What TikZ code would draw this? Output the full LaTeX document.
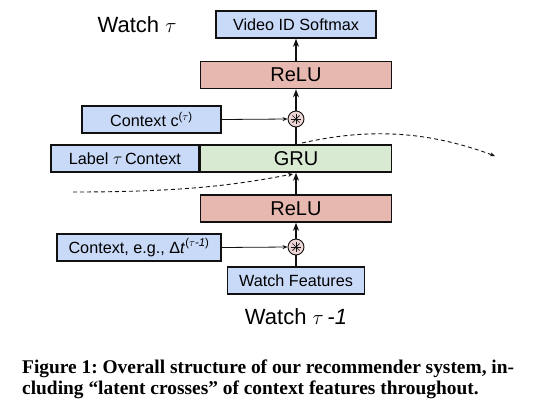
\documentclass[tikz,border=0pt]{standalone}
\usepackage{fontspec}
\setmainfont{Liberation Sans}
\newfontfamily\capfont{Liberation Serif}
\usetikzlibrary{arrows.meta}
\frenchspacing
\definecolor{bluefill}{HTML}{C9DAF8}
\definecolor{redfill}{HTML}{E6B8AF}
\definecolor{pinkfill}{HTML}{EED6D6}
\definecolor{greenfill}{HTML}{D9EAD3}
\definecolor{edge}{HTML}{111111}
\tikzset{
  box/.style={draw=edge, line width=1.6pt, inner sep=0pt, minimum height=27pt, font=\fontsize{16.2}{19}\selectfont},
  bluebox/.style={box, fill=bluefill},
  redbox/.style={box, fill=redfill, font=\fontsize{20}{23}\selectfont},
  greenbox/.style={box, fill=greenfill, font=\fontsize{20}{23}\selectfont},
  crossnode/.style={circle, draw=edge, line width=0.9pt, fill=pinkfill, minimum size=16pt, inner sep=0pt},
  uparrow/.style={draw=edge, line width=1.4pt, -{Stealth[length=8pt,width=6pt]}},
  upline/.style={draw=edge, line width=1.4pt},
  sidearrow/.style={draw=edge, line width=0.8pt, -{Stealth[length=5pt,width=4pt]}},
  flow/.style={draw=edge, line width=0.9pt, dash pattern=on 4pt off 3pt, -{Stealth[length=5pt,width=4pt]}},
  titletext/.style={font=\fontsize{22}{25}\selectfont, inner sep=0pt},
  captext/.style={anchor=base west, inner sep=0pt, font=\capfont\bfseries\fontsize{19.4}{23}\selectfont},
}
\newcommand{\crossmark}[1]{%
  \foreach \ang in {0,45,...,315}{\draw[edge, line width=0.7pt] (#1.center) -- ++(\ang:5pt);}%
}
\begin{document}
\begin{tikzpicture}[x=1pt,y=-1pt]
\useasboundingbox[fill=white] (0,0) rectangle (554,408);

\node[bluebox, minimum width=160pt] (soft) at (296,24.5) {Video ID Softmax};
\node[titletext] (wtop) at (137,25) {Watch $\tau$};
\node[redbox, minimum width=191pt] (relu2) at (296,75) {ReLU};
\node[bluebox, minimum width=139pt] (ctx2) at (151.5,119.5) {Context c\textsuperscript{($\tau$)}};
\node[crossnode] (cross2) at (296,119) {};
\crossmark{cross2}
\node[greenbox, minimum width=191pt] (gru) at (296,158.5) {GRU};
\node[bluebox, minimum width=148pt, anchor=east] (label) at (gru.west) {Label $\tau$\,Context};
\node[redbox, minimum width=191pt] (relu1) at (296,208.5) {ReLU};
\node[bluebox, minimum width=164pt] (ctx1) at (139,247.5) {Context, e.g., Δ\textit{t}\textsuperscript{($\tau$\textit{-1})}};
\node[crossnode] (cross1) at (296,247) {};
\crossmark{cross1}
\node[bluebox, minimum width=137pt] (wf) at (296,280.5) {Watch Features};
\node[titletext] (wbot) at (296,317) {Watch $\tau$\,\textit{-1}};

\draw[upline] (wf.north) -- (cross1.south);
\draw[uparrow] (cross1.north) -- (relu1.south);
\draw[uparrow] (relu1.north) -- (gru.south);
\draw[upline] (gru.north) -- (cross2.south);
\draw[uparrow] (cross2.north) -- (relu2.south);
\draw[uparrow] (relu2.north) -- (soft.south);
\draw[sidearrow] (ctx2.east) -- (cross2.west);
\draw[sidearrow] (ctx1.east) -- (cross1.west);

\coordinate (fa) at (302,143);
\coordinate (fb) at (495,156);
\coordinate (fc) at (73,192);
\coordinate (fd) at (293,174);
\draw[flow] (fa) .. controls (360,130) and (420,128) .. (fb);
\draw[flow] (fc) .. controls (190,192) and (240,184) .. (fd);

\node[captext] (cap1) at (22,373) {Figure 1: Overall structure of our recommender system, in-};
\node[captext] (cap2) at (22,394) {cluding “latent crosses” of context features throughout.};
\end{tikzpicture}
\end{document}
